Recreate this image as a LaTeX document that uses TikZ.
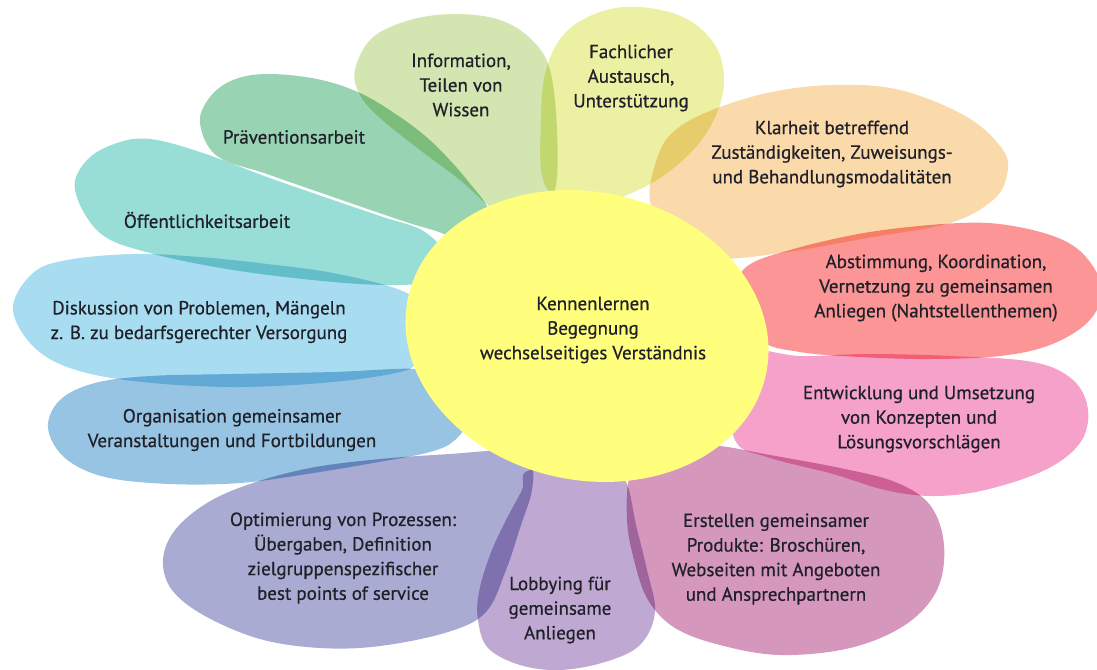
\documentclass[tikz,border=0pt]{standalone}
\usepackage{fontspec}
\setmainfont{PT Sans}
\newfontfamily\lblfont{PT Sans}[FakeBold=0.6]
\definecolor{cInfo}{HTML}{D3E5B0}
\definecolor{cFach}{HTML}{ECF0A2}
\definecolor{cPraev}{HTML}{98D3B4}
\definecolor{cOeff}{HTML}{98DDD6}
\definecolor{cDisk}{HTML}{A8DCF1}
\definecolor{cOrga}{HTML}{97C4E3}
\definecolor{cOpti}{HTML}{A9ABD3}
\definecolor{cLobby}{HTML}{BFA9D3}
\definecolor{cErst}{HTML}{D598BC}
\definecolor{cEntw}{HTML}{F5A1C9}
\definecolor{cAbst}{HTML}{FB9596}
\definecolor{cKlar}{HTML}{FAD9AA}
\definecolor{cCenter}{HTML}{FFFF7D}
\definecolor{txt}{HTML}{202028}
\tikzset{
  petal/.style={fill=#1, draw=none, blend mode=multiply},
  lbl/.style={align=center, font=\lblfont\fontsize{16.2}{21}\selectfont, text=txt, inner sep=0pt},
}
\begin{document}
\begin{tikzpicture}[x=0.03cm,y=-0.03cm]
\useasboundingbox (0,0) rectangle (1097,669);
\fill[white] (0,0) rectangle (1097,669);
% petals
\fill[petal=cInfo] plot[smooth cycle, tension=0.6] coordinates {(355,70) (372,38) (410,20) (455,14) (500,20) (532,40) (550,70) (557,130) (555,190) (535,225) (495,210) (460,180) (420,150) (380,118) (360,95)};
\fill[petal=cFach] plot[smooth cycle, tension=0.6] coordinates {(545,185) (541,120) (546,70) (565,33) (600,12) (640,7) (685,18) (715,45) (724,80) (716,115) (695,148) (660,178) (620,198) (585,210)};
\fill[petal=cKlar] plot[smooth cycle, tension=0.6] coordinates {(650,200) (655,165) (670,135) (705,113) (767,93) (833,85) (900,90) (967,117) (1003,150) (1007,175) (993,200) (950,223) (867,238) (800,250) (740,258) (700,258) (665,240)};
\fill[petal=cAbst] plot[smooth cycle, tension=0.6] coordinates {(735,300) (745,268) (790,250) (870,232) (960,223) (1013,226) (1063,240) (1090,262) (1102,292) (1088,322) (1050,345) (1000,356) (930,359) (860,357) (800,352) (760,340)};
\fill[petal=cEntw] plot[smooth cycle, tension=0.6] coordinates {(745,350) (800,356) (867,354) (950,356) (1033,362) (1073,380) (1088,410) (1080,443) (1045,470) (985,490) (933,496) (885,490) (833,474) (767,457) (735,440) (730,380)};
\fill[petal=cErst] plot[smooth cycle, tension=0.6] coordinates {(650,450) (630,475) (627,520) (634,560) (648,600) (675,628) (720,645) (780,655) (850,648) (905,625) (937,590) (944,545) (930,505) (895,482) (840,468) (770,455) (720,446) (680,445)};
\fill[petal=cLobby] plot[smooth cycle, tension=0.6] coordinates {(530,470) (522,490) (505,522) (490,555) (479,592) (478,620) (488,648) (520,665) (560,670) (605,662) (640,645) (655,612) (647,570) (636,525) (625,480) (600,468)};
\fill[petal=cOpti] plot[smooth cycle, tension=0.6] coordinates {(163,560) (175,530) (207,503) (250,484) (310,468) (380,459) (450,454) (505,451) (530,462) (532,490) (520,528) (506,570) (486,612) (448,632) (380,646) (320,648) (260,639) (205,616) (172,590)};
\fill[petal=cOrga] plot[smooth cycle, tension=0.6] coordinates {(48,428) (60,400) (95,383) (150,376) (233,374) (333,372) (417,369) (450,380) (465,420) (455,440) (430,452) (373,463) (307,474) (240,483) (170,484) (105,477) (65,458)};
\fill[petal=cDisk] plot[smooth cycle, tension=0.6] coordinates {(13,307) (33,273) (67,260) (133,254) (200,257) (267,264) (333,273) (400,290) (425,310) (430,340) (417,362) (400,372) (333,382) (233,387) (133,381) (67,367) (30,343)};
\fill[petal=cOeff] plot[smooth cycle, tension=0.6] coordinates {(75,190) (87,160) (117,143) (150,139) (200,152) (267,177) (333,200) (383,217) (425,232) (450,262) (430,280) (400,285) (333,282) (233,270) (150,253) (100,233)};
\fill[petal=cPraev] plot[smooth cycle, tension=0.6] coordinates {(200,123) (210,97) (233,80) (267,74) (317,79) (360,93) (400,117) (433,143) (467,180) (490,215) (470,240) (433,230) (400,220) (333,197) (267,174) (217,156)};
% centre
\fill[cCenter, rotate around={-12:(587,336)}] (587,336) ellipse [x radius=5.49cm, y radius=4.32cm];
\node[lbl] (center) at (593,330) {Kennenlernen\\Begegnung\\wechselseitiges Verständnis};
% labels
\node[lbl] (info) at (461,85) {Information,\\Teilen von\\Wissen};
\node[lbl] (fach) at (631,78) {Fachlicher\\Austausch,\\Unterstützung};
\node[lbl] (klar) at (832,154) {Klarheit betreffend\\Zuständigkeiten, Zuweisungs-\\und Behandlungsmodalitäten};
\node[lbl] (abst) at (936,288) {Abstimmung, Koordination,\\Vernetzung zu gemeinsamen\\Anliegen (Nahtstellenthemen)};
\node[lbl] (entw) at (919,419) {Entwicklung und Umsetzung\\von Konzepten und\\Lösungsvorschlägen};
\node[lbl] (erst) at (776,559) {Erstellen gemeinsamer\\Produkte: Broschüren,\\Webseiten mit Angeboten\\und Ansprechpartnern};
\node[lbl] (lobby) at (560,610) {Lobbying für\\gemeinsame\\Anliegen};
\node[lbl] (opti) at (343,558) {Optimierung von Prozessen:\\Übergaben, Definition\\zielgruppenspezifischer\\best points of service};
\node[lbl] (orga) at (232,430) {Organisation gemeinsamer\\Veranstaltungen und Fortbildungen};
\node[lbl] (disk) at (199,322) {Diskussion von Problemen, Mängeln\\z. B. zu bedarfsgerechter Versorgung};
\node[lbl] (oeff) at (207,220) {Öffentlichkeitsarbeit};
\node[lbl] (praev) at (294,137) {Präventionsarbeit};
\end{tikzpicture}
\end{document}
